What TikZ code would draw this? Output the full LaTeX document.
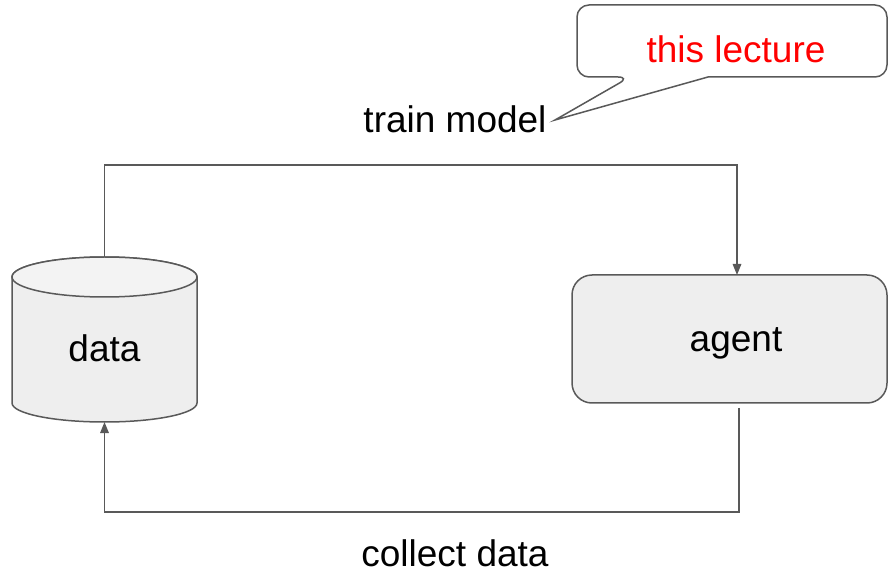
\documentclass[tikz,border=0pt]{standalone}
\usepackage{fontspec}
\setmainfont{Liberation Sans}
\usetikzlibrary{arrows.meta}
\definecolor{edgegray}{HTML}{595959}
\definecolor{boxfill}{HTML}{EEEEEE}
\definecolor{topfill}{HTML}{F3F3F3}
\begin{document}
\begin{tikzpicture}[x=1pt,y=1pt,
  lbl/.style={font=\fontsize{37}{42}\selectfont, text=black, inner sep=0pt, anchor=base},
  conn/.style={draw=edgegray, line width=1.5pt},
  arr/.style={conn, -{Triangle[length=11pt,width=8.5pt]}},
  agentbox/.style={draw=edgegray, fill=boxfill, line width=1.5pt, rounded corners=20pt, minimum width=315pt, minimum height=128pt, inner sep=0pt}
]
\useasboundingbox (0,0) rectangle (888,573);

% callout
\draw[draw=edgegray, fill=white, line width=1.5pt] (630,496) -- (555,453) -- (708,496)
  [rounded corners=12pt] -- (887,496) -- (887,568) -- (577,568) -- (577,496) -- cycle;
\node[lbl, text=red] (lecture) at (736,510) {this lecture};
\node[lbl] (train) at (455,440) {train model};

% cylinder (data store)
\path[fill=boxfill, draw=edgegray, line width=1.5pt] (12,296) -- (12,170)
  arc[start angle=180, end angle=360, x radius=92.5, y radius=19] -- (197,296)
  arc[start angle=0, end angle=180, x radius=92.5, y radius=20] -- cycle;
\draw[draw=edgegray, fill=topfill, line width=1.5pt] (104.5,296) ellipse[x radius=92.5, y radius=20];
\coordinate (cyltop) at (104.5,316);
\coordinate (cylbot) at (104.5,151);
\node[lbl] (data) at (104.5,211) {data};

% agent
\node[agentbox] (agent) at (729.5,234) {};
\node[lbl] (agentlbl) at (736,221) {agent};
\coordinate (agentin) at (737,298);
\coordinate (agentout) at (739,165);

% connectors
\draw[arr] (cyltop) |- (420,408) -| (agentin);
\draw[arr] (agentout) |- (420,61) -| (cylbot);

\node[lbl] (collect) at (455,7) {collect data};
\end{tikzpicture}
\end{document}
